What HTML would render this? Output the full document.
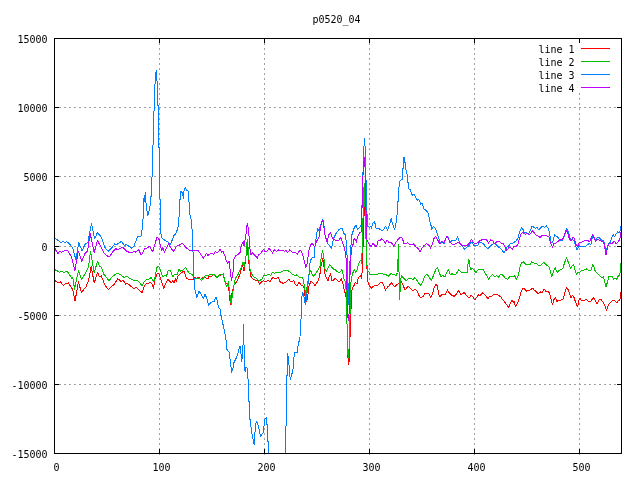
<!DOCTYPE html>
<html><head><meta charset="utf-8"><title>p0520_04</title>
<style>
html,body{margin:0;padding:0;background:#fff;}
body{width:640px;height:480px;overflow:hidden;}
svg{display:block;}
text{font-family:"DejaVu Sans Mono","Liberation Mono",monospace;font-size:10px;fill:#000;}
</style></head><body>
<svg width="640" height="480" viewBox="0 0 640 480">
<rect x="0" y="0" width="640" height="480" fill="#fff"/>

<g stroke="#a0a0a0" stroke-width="1" stroke-dasharray="2 3" shape-rendering="crispEdges" fill="none">
<line x1="54" y1="107.5" x2="621" y2="107.5"/>
<line x1="54" y1="176.5" x2="621" y2="176.5"/>
<line x1="54" y1="246.5" x2="621" y2="246.5"/>
<line x1="54" y1="315.5" x2="621" y2="315.5"/>
<line x1="54" y1="384.5" x2="621" y2="384.5"/>
<line x1="159.5" y1="455" x2="159.5" y2="38"/>
<line x1="264.5" y1="455" x2="264.5" y2="38"/>
<line x1="369.5" y1="455" x2="369.5" y2="38"/>
<line x1="474.5" y1="455" x2="474.5" y2="38"/>
<line x1="579.5" y1="455" x2="579.5" y2="93"/>
</g>
<g fill="none" stroke-width="1" stroke-linejoin="round" shape-rendering="crispEdges" clip-path="url(#c)">
<clipPath id="c"><rect x="54" y="38" width="568" height="416"/></clipPath>
<polyline stroke="#ff0000" points="54.5,280.4 59.0,283.1 60.2,281.5 63.4,285.6 65.9,283.5 68.4,282.8 71.5,288.1 72.8,289.4 75.0,301.2 78.4,281.9 81.5,292.5 85.9,286.9 88.4,281.2 91.2,266.5 94.2,283.1 97.5,272.5 99.6,276.9 101.2,275.6 105.2,285.6 108.4,289.4 114.0,284.4 117.8,278.8 120.9,281.2 123.4,280.6 125.9,284.4 127.1,283.1 130.2,285.6 134.0,288.8 135.9,286.9 139.6,290.6 142.1,292.5 144.6,285.6 146.5,283.1 148.4,283.8 150.2,281.9 152.1,284.4 153.4,288.5 155.0,279.4 157.1,273.5 159.0,273.8 160.9,279.4 163.8,288.1 165.9,283.1 167.8,279.4 169.6,281.2 171.2,283.1 173.0,280.6 174.0,283.1 175.9,278.1 176.5,281.2 177.8,276.2 181.5,272.5 184.0,271.2 186.5,278.1 189.0,279.4 192.8,280.0 194.0,276.9 196.5,278.1 199.0,277.2 200.2,279.4 204.0,276.9 207.8,279.0 209.0,276.2 212.1,276.0 214.0,274.4 215.9,276.2 217.1,278.1 219.6,275.2 223.4,274.4 224.6,280.6 227.1,284.4 228.4,283.1 229.6,297.5 230.5,305.0 232.1,292.5 233.8,285.6 235.2,283.1 237.1,281.2 239.6,275.0 242.5,265.0 244.0,271.2 245.2,262.5 246.2,255.0 247.2,246.9 248.0,255.0 249.6,268.8 250.9,276.2 252.8,278.8 255.9,280.6 257.8,280.6 259.6,284.4 261.5,281.9 263.4,280.6 265.2,281.9 267.8,280.6 270.2,281.2 272.8,277.5 275.2,278.8 278.4,277.5 280.2,281.9 283.4,283.5 285.9,281.9 289.0,279.4 290.9,281.9 294.0,280.6 295.2,284.4 297.1,285.6 299.0,281.9 300.9,285.0 302.8,285.6 304.2,288.1 305.5,301.2 306.5,301.9 307.5,297.5 309.0,286.2 310.9,281.2 313.0,283.1 315.2,285.6 317.8,281.2 319.6,276.9 320.9,266.2 321.8,262.5 322.8,258.8 323.8,265.0 324.6,272.5 326.5,278.1 328.0,280.6 329.2,276.2 330.5,273.8 332.1,281.2 334.0,279.4 335.2,278.4 336.8,280.0 338.7,281.6 340.2,281.0 341.5,278.8 342.4,282.5 343.4,285.0 343.4,288.8 344.3,289.0 344.3,292.0 345.4,292.2 345.4,296.0 346.4,296.5 346.5,324.0 347.5,324.0 347.5,350.0 348.5,365.0 349.4,358.8 349.5,342.0 350.5,332.8 350.5,315.0 351.5,302.5 351.5,290.3 352.4,290.0 352.6,287.2 353.4,286.9 354.3,285.0 354.6,283.4 355.6,282.2 356.2,283.8 357.4,283.1 358.0,278.8 359.3,276.6 360.6,275.3 361.4,278.4 361.5,273.1 362.6,272.5 362.8,255.0 362.9,246.0 363.5,246.0 363.5,214.0 364.5,202.0 364.5,210.0 365.5,222.0 366.5,235.0 366.5,265.0 367.4,272.0 367.4,281.0 368.4,282.5 369.0,285.0 369.9,286.2 371.2,288.4 372.4,287.2 374.0,286.0 375.9,285.0 377.8,285.0 379.6,283.1 382.1,282.5 384.0,286.2 385.5,290.0 387.5,286.9 389.0,286.2 391.2,282.5 392.8,284.4 394.6,286.9 397.1,284.4 399.0,283.1 401.5,281.9 403.4,286.2 405.2,290.0 408.0,286.2 410.2,288.1 412.8,290.6 415.2,289.4 417.1,291.2 419.0,295.6 420.9,298.1 423.4,296.2 425.2,293.1 426.5,293.1 429.0,293.8 430.9,297.5 432.8,293.1 434.6,286.2 436.2,284.4 437.5,286.2 438.4,292.5 439.6,296.9 442.1,294.4 445.2,294.4 447.5,290.0 449.0,292.5 451.5,295.0 454.0,296.2 455.5,295.6 457.1,292.5 458.8,290.6 460.9,294.4 462.8,293.8 464.2,292.5 466.5,295.6 469.0,298.1 470.9,295.6 472.8,296.2 474.6,300.0 476.5,297.5 478.4,295.0 480.2,295.6 482.8,292.5 485.2,295.0 487.8,298.8 489.6,296.2 491.5,296.9 493.4,294.4 495.2,295.0 497.1,294.4 499.0,295.6 500.9,296.9 502.8,300.0 504.6,301.9 506.5,304.4 508.8,307.5 510.0,303.8 511.8,300.0 513.4,302.5 514.2,301.2 515.5,306.9 517.1,303.8 519.0,299.4 520.2,295.0 521.5,290.6 523.4,288.1 525.2,289.4 526.5,291.2 529.0,290.6 530.9,289.4 532.8,288.1 534.0,290.0 535.9,291.2 538.4,293.8 540.2,291.9 542.1,292.5 544.0,288.8 545.9,291.2 547.8,291.2 549.6,293.1 550.9,298.8 552.5,305.0 554.0,299.4 555.2,297.5 556.8,301.2 559.0,300.6 560.9,300.0 563.0,299.4 564.6,293.8 566.5,287.5 568.4,290.0 569.6,293.8 570.9,297.5 572.5,295.6 574.0,297.5 575.5,301.9 577.5,306.9 578.8,301.2 579.6,298.1 581.5,300.6 584.0,300.6 586.5,299.4 588.4,301.2 590.9,301.2 593.4,297.5 595.2,300.6 597.1,303.8 599.0,300.0 600.9,299.4 602.8,301.9 604.6,305.0 606.5,310.0 608.4,305.0 610.6,302.5 613.1,300.0 615.0,301.2 616.9,303.1 618.5,300.6 619.8,300.0 620.9,292.5"/>
<polyline stroke="#00c000" points="54.5,269.5 57.8,271.2 59.6,272.5 61.5,271.2 63.4,272.5 67.1,271.2 69.0,273.8 71.5,278.1 72.8,277.5 74.6,289.4 78.4,270.6 81.5,279.4 85.2,273.8 88.4,267.5 90.5,251.2 92.1,260.0 94.2,273.1 97.5,261.2 99.6,266.2 101.5,267.5 104.0,274.4 109.0,280.6 112.8,276.2 117.1,273.1 120.2,274.4 124.0,277.5 127.1,276.2 130.2,278.8 134.0,280.6 137.1,280.0 139.6,282.5 142.1,286.2 144.0,281.9 146.5,279.4 149.0,279.0 151.2,277.5 153.8,281.9 155.2,276.9 156.8,267.5 158.4,266.2 160.2,269.4 162.8,276.9 164.6,275.6 166.5,276.2 168.4,270.0 170.5,270.6 172.8,276.9 174.6,274.4 177.1,275.0 179.0,269.4 180.9,271.2 183.4,270.0 185.5,267.5 189.0,273.1 192.1,274.4 194.0,278.1 196.5,278.8 199.0,278.1 201.5,280.6 205.9,275.0 207.8,275.6 209.6,274.4 211.5,275.0 214.0,274.8 215.9,275.6 217.1,277.5 219.6,274.8 223.4,273.8 224.6,280.0 226.5,286.9 228.4,281.9 229.6,291.2 231.2,304.4 232.8,292.5 234.0,285.0 235.2,278.8 237.8,275.0 240.9,268.1 243.0,261.9 244.2,266.2 245.9,257.5 246.8,243.8 247.5,239.4 248.4,252.5 249.6,267.5 251.5,273.8 253.4,276.9 256.5,278.1 259.0,281.2 262.1,278.8 264.0,275.6 267.1,275.0 269.0,274.4 270.9,275.6 272.1,272.5 274.6,273.1 276.5,272.5 279.0,273.1 282.1,271.2 285.9,270.0 289.0,271.2 291.5,273.8 294.0,275.2 296.5,275.0 299.6,277.2 302.8,278.1 304.0,283.8 305.9,296.2 307.1,286.2 308.4,278.8 309.6,270.0 310.9,271.2 312.1,274.4 313.8,276.2 315.9,273.1 317.8,270.6 320.2,266.2 321.2,257.5 322.5,250.6 323.8,256.2 324.6,268.8 326.5,271.2 327.8,268.8 329.6,264.4 332.1,267.5 334.6,270.0 335.2,269.4 336.5,271.0 338.4,272.5 340.2,271.9 341.5,270.0 342.4,271.2 343.4,276.2 344.3,280.6 345.6,281.2 346.3,295.0 346.5,324.0 347.5,324.0 347.5,350.0 348.3,358.0 349.3,345.0 350.0,315.0 350.7,285.0 351.5,278.0 352.4,274.4 353.4,271.2 354.6,270.0 355.6,272.2 356.8,270.6 357.8,266.9 358.7,264.4 359.6,261.2 360.9,260.0 361.5,263.1 361.6,255.0 362.5,250.0 362.5,222.0 363.5,214.0 363.5,190.0 364.5,184.0 364.5,202.0 365.5,211.0 365.5,239.0 366.5,239.0 366.5,265.0 367.4,265.6 367.8,271.2 369.0,272.2 369.6,274.4 374.0,274.5 376.5,275.0 379.0,273.5 381.5,273.1 384.0,274.4 386.5,275.0 388.8,276.2 390.9,273.1 392.8,275.0 394.2,274.4 395.9,275.6 397.5,272.5 397.8,259.4 398.6,258.8 398.8,244.4 399.0,271.9 399.6,272.5 399.8,299.4 400.0,292.5 400.9,278.8 401.8,275.6 403.4,278.1 405.9,280.6 408.4,278.8 411.5,278.8 413.4,279.4 414.6,277.5 417.1,280.6 420.5,285.6 422.8,281.2 424.6,276.2 427.1,274.4 429.0,276.9 431.5,280.6 433.8,274.4 435.9,269.4 437.5,267.5 439.0,271.9 440.9,276.9 442.8,275.6 445.0,276.9 446.5,272.5 448.4,269.4 450.2,274.4 452.1,273.8 454.0,275.0 455.9,274.4 458.4,270.0 460.9,271.9 462.8,273.1 464.6,272.5 467.1,273.1 467.8,266.2 468.4,259.4 469.2,260.0 469.6,266.2 470.9,270.0 472.5,268.1 474.0,270.0 475.9,272.5 477.8,270.0 479.6,269.4 481.5,270.0 483.4,269.4 485.2,273.1 487.1,276.2 488.8,279.4 490.5,276.2 492.5,274.4 494.6,276.9 496.5,275.6 498.4,277.5 500.2,275.0 501.8,274.4 503.4,275.6 505.2,278.1 507.5,279.4 509.6,276.9 511.5,276.2 513.0,276.9 514.6,275.6 516.5,279.4 518.4,275.0 519.6,268.8 520.5,265.0 522.1,262.5 523.8,261.9 525.9,264.4 528.4,265.0 530.2,264.4 531.8,261.9 533.4,262.5 534.0,263.1 536.5,263.8 539.6,266.0 541.5,264.4 544.0,262.5 546.5,265.0 549.0,266.9 550.2,270.6 551.8,276.9 553.4,271.9 555.2,267.5 557.1,272.5 559.0,270.6 560.9,269.4 562.8,268.8 564.6,262.5 566.5,257.8 568.4,262.5 570.5,268.8 572.1,266.2 573.4,264.4 574.6,268.1 576.5,275.0 578.0,271.9 579.6,272.5 581.5,270.6 584.0,270.0 587.1,268.8 589.0,271.2 590.9,270.0 592.8,264.8 594.0,266.9 595.2,271.2 597.1,273.1 599.6,275.6 601.5,277.5 603.4,276.9 604.6,281.2 605.9,287.2 607.1,283.1 608.8,276.9 610.6,276.2 612.5,276.9 613.8,279.4 615.6,278.1 616.9,279.4 618.1,276.2 619.8,275.0 620.9,263.1"/>
<polyline stroke="#0080ff" points="54.5,237.9 59.0,241.0 60.9,242.5 63.0,241.2 64.6,242.8 66.5,241.9 68.4,242.8 72.8,247.8 75.9,260.0 78.8,242.5 82.1,251.2 84.6,245.0 88.0,241.9 91.5,223.5 94.6,238.8 97.5,232.5 101.5,237.5 105.2,248.1 108.4,251.2 111.5,248.1 114.6,244.0 116.5,244.8 121.5,241.2 124.6,245.6 126.5,244.4 131.5,248.1 134.0,246.2 137.5,236.5 141.5,236.0 142.5,224.4 143.4,215.0 143.4,207.5 144.2,195.0 144.8,201.2 145.6,192.2 145.9,202.5 146.5,203.8 147.4,215.6 148.4,213.8 150.0,206.2 150.6,196.9 151.5,196.2 151.5,177.5 152.5,176.2 152.5,155.0 152.5,145.2 153.4,144.8 153.4,111.2 154.4,110.6 154.4,84.4 155.2,83.8 155.2,72.5 156.0,72.1 156.6,70.9 156.4,80.6 157.5,81.2 157.8,105.6 158.6,106.2 158.6,147.5 159.6,148.1 159.6,198.8 160.6,199.4 160.6,227.5 160.9,233.8 162.1,238.1 164.6,240.0 167.8,241.9 170.2,245.0 174.0,235.6 175.9,233.8 178.0,227.5 179.2,215.0 179.2,200.6 180.2,199.4 180.5,191.2 182.1,192.5 183.4,198.1 184.0,191.2 185.2,187.2 186.5,190.0 188.4,191.2 188.6,201.9 189.6,202.5 189.9,215.0 191.8,221.2 192.5,246.2 193.8,260.0 194.0,277.5 194.9,290.0 196.9,297.5 199.0,291.2 200.9,293.8 203.4,298.1 205.0,294.4 206.5,297.5 208.8,305.2 210.9,302.5 214.0,301.5 215.9,296.9 217.1,300.0 218.4,307.5 220.2,309.4 220.9,315.0 223.4,326.2 225.2,335.0 226.8,345.0 226.5,348.8 227.8,350.6 229.2,351.9 230.0,358.8 230.9,365.6 231.5,372.2 232.8,368.8 234.0,362.5 236.5,357.5 238.4,351.9 239.6,346.2 240.5,346.9 241.5,361.2 242.5,356.2 243.0,345.0 243.6,324.4 243.8,345.0 244.6,345.6 244.2,367.5 245.2,371.2 245.9,367.5 247.1,368.1 247.5,378.8 248.4,379.4 248.6,400.0 248.8,401.2 249.6,401.9 249.9,419.4 250.6,420.6 251.2,430.0 252.5,436.9 254.2,444.4 255.5,424.4 256.5,421.2 258.4,426.2 260.5,436.2 263.4,432.5 264.6,419.4 266.2,417.5 266.5,424.4 267.5,425.0 267.8,441.2 268.6,441.9 268.6,460.0 285.5,460.0 285.5,426.2 286.5,425.6 286.8,395.0 286.2,376.2 287.1,375.6 287.4,353.1 288.4,357.5 288.8,363.8 289.6,366.9 289.4,373.8 290.5,379.4 292.1,373.1 293.4,367.5 293.6,357.5 294.0,356.9 294.2,355.0 294.6,352.5 297.1,353.1 297.5,348.8 298.8,342.5 300.0,336.9 300.5,320.0 301.5,318.1 301.5,299.0 302.8,292.5 303.8,295.6 304.6,301.2 305.5,305.0 306.5,297.5 307.8,286.2 309.0,275.0 310.2,261.0 312.1,257.5 314.0,258.1 315.0,246.2 316.5,236.2 317.5,228.1 319.0,230.6 320.2,226.9 321.5,221.9 322.8,219.4 323.8,223.1 324.6,233.8 325.9,238.8 327.8,243.8 329.6,245.6 331.5,248.8 333.4,238.8 335.9,233.8 339.0,229.4 341.8,228.1 343.4,231.9 344.5,234.7 345.6,234.7 345.9,240.0 346.6,240.6 346.8,250.0 347.3,262.0 348.3,305.0 349.3,275.0 350.6,250.0 350.9,246.9 351.5,236.2 352.4,233.1 353.4,230.6 354.3,227.5 355.2,226.2 356.5,225.3 357.4,230.0 358.7,228.4 360.9,226.2 361.5,220.0 362.5,190.0 363.5,154.0 364.5,139.0 365.5,152.0 365.5,175.0 366.5,185.0 366.5,211.0 367.5,216.0 367.4,226.9 368.4,226.2 369.6,227.8 370.9,226.2 371.5,228.1 372.4,224.4 373.4,222.5 374.5,221.2 375.2,224.4 375.6,227.5 376.5,228.4 378.7,228.4 379.9,229.4 381.5,230.3 383.0,230.0 384.0,229.4 385.5,226.2 387.5,230.0 389.2,225.6 391.2,218.8 392.8,224.4 394.6,230.0 396.2,222.5 397.1,214.4 397.5,201.9 398.4,201.2 398.5,187.5 399.4,186.9 399.6,181.2 400.9,180.0 402.5,179.4 402.8,168.8 403.6,167.5 403.8,157.5 404.6,157.2 404.8,162.5 405.5,162.5 405.9,170.0 406.8,170.6 407.1,175.0 407.8,175.6 408.0,182.5 408.8,183.1 409.0,188.8 410.2,189.8 411.5,193.8 412.5,195.2 413.8,194.0 415.2,196.2 417.1,200.6 418.0,199.4 419.6,200.6 420.5,204.4 421.5,203.1 422.5,203.8 423.4,208.1 424.6,209.4 426.5,210.6 428.4,213.8 429.6,220.0 430.9,225.0 431.8,229.4 433.4,226.2 435.2,228.1 437.1,233.1 439.0,238.8 440.2,243.1 442.1,242.5 444.0,243.8 445.2,240.0 446.5,236.9 447.8,236.2 449.0,240.0 450.2,243.1 451.8,240.0 454.0,240.6 455.9,240.0 457.5,236.9 459.0,240.6 460.2,243.8 462.8,246.9 464.6,249.4 466.5,247.5 469.0,245.6 470.9,241.9 472.5,243.1 474.0,246.2 475.9,245.0 477.1,246.2 479.0,243.1 480.9,242.5 483.4,243.8 485.2,246.2 487.5,248.8 489.6,246.9 492.1,244.4 494.0,243.1 496.5,245.0 498.4,246.9 500.9,248.8 502.8,251.2 504.2,252.5 505.9,248.8 507.1,246.9 509.0,245.6 510.2,243.5 512.8,243.1 514.6,241.9 516.5,240.6 518.4,236.9 519.6,231.9 521.5,227.5 523.0,229.4 524.6,233.1 526.5,232.5 528.4,233.8 530.2,230.6 531.8,226.9 533.4,226.2 534.0,227.5 535.5,228.1 537.1,227.5 539.0,230.0 540.9,227.5 542.8,226.2 544.6,227.5 546.5,226.0 548.4,228.8 549.6,233.8 550.9,241.9 552.5,242.5 553.8,238.1 554.6,234.4 556.5,236.2 558.4,238.1 560.2,240.0 562.1,240.6 564.0,236.9 565.5,231.9 566.8,228.5 568.4,231.9 569.6,236.9 570.9,240.0 572.8,239.4 574.0,241.2 575.2,245.0 577.1,250.0 578.4,247.5 579.6,245.6 582.1,246.9 584.6,246.9 587.1,245.0 589.6,243.1 590.9,245.0 591.8,240.0 592.8,235.0 594.2,238.8 595.9,240.0 597.8,237.2 599.6,238.1 601.5,240.0 603.4,240.6 604.6,244.4 605.9,251.2 607.1,247.5 608.4,243.8 610.2,242.5 611.5,238.8 613.1,234.4 614.4,236.9 616.2,233.8 617.8,231.9 619.8,232.5 620.9,226.2"/>
<polyline stroke="#c000ff" points="54.5,247.5 57.8,253.8 59.6,251.5 61.5,252.2 65.2,250.4 67.8,250.6 71.5,256.9 74.9,270.6 78.4,251.2 81.8,261.2 85.2,253.1 87.5,251.2 90.2,233.8 94.2,252.5 97.5,240.6 101.5,248.1 104.0,253.1 109.0,257.2 112.8,251.9 115.9,248.8 117.8,249.4 122.8,247.2 126.5,251.2 129.0,252.2 132.1,252.8 134.0,251.2 135.9,252.2 138.4,249.4 140.9,254.4 142.1,254.0 144.6,248.5 146.5,248.5 149.6,246.2 152.8,251.9 154.6,245.0 157.1,237.2 159.0,239.4 161.5,250.6 162.8,247.8 164.6,252.2 168.4,243.8 170.9,248.1 173.4,251.5 177.1,245.6 179.6,245.0 182.5,243.1 185.2,246.9 189.0,250.0 192.8,250.6 198.4,250.9 203.4,258.1 206.5,253.5 207.8,255.6 210.9,253.1 214.0,254.4 215.2,251.9 217.8,252.5 220.2,249.4 221.8,252.5 223.0,251.2 224.6,255.0 226.5,261.2 227.8,263.1 229.0,261.2 230.2,270.0 231.5,280.6 232.8,273.8 233.8,265.0 234.0,258.8 235.9,255.6 239.0,253.8 240.5,251.9 241.2,245.6 243.4,241.9 244.0,246.2 245.9,235.0 246.8,226.2 247.5,223.1 248.8,232.5 249.6,246.2 250.9,255.0 252.1,252.5 255.2,255.6 257.5,258.1 258.4,255.0 260.9,253.1 263.4,249.4 264.6,251.2 267.1,251.2 269.0,248.5 270.9,250.6 272.5,253.1 274.6,249.4 276.5,251.2 278.4,250.0 280.9,250.6 282.8,250.0 284.0,251.2 285.9,250.6 287.8,252.5 289.6,250.0 292.1,251.9 294.0,252.5 295.9,252.5 297.1,254.4 299.6,250.6 301.5,251.2 303.4,257.5 305.9,267.5 307.1,263.8 309.0,250.0 311.5,243.1 313.4,245.0 314.6,246.9 316.5,241.2 319.0,237.5 320.9,225.6 322.1,220.6 323.4,221.9 324.6,233.8 327.1,241.9 329.0,234.4 330.5,232.5 332.1,236.9 333.4,239.4 335.9,240.6 338.4,240.6 340.9,237.5 342.8,243.8 344.6,248.1 345.5,255.0 346.2,259.0 347.0,290.0 347.5,315.0 348.4,320.6 349.4,310.0 349.7,290.0 350.3,262.0 351.5,250.0 352.1,246.2 353.4,243.8 353.7,240.0 354.6,238.4 355.6,240.0 356.5,242.2 357.2,238.1 358.5,235.0 359.6,232.5 360.9,231.9 361.5,231.0 362.5,187.0 363.5,165.0 364.5,158.0 365.5,175.0 365.5,211.0 366.5,211.0 366.6,235.0 366.8,238.8 367.4,241.2 368.7,243.1 369.6,245.0 370.9,246.9 371.8,245.6 372.4,243.4 374.3,244.4 375.9,246.9 377.1,245.0 377.4,241.6 378.7,240.3 380.2,240.6 381.8,238.4 383.4,240.6 384.0,241.2 385.5,243.1 387.1,240.0 389.2,243.1 390.9,241.9 393.8,246.2 395.9,242.5 398.4,238.8 400.9,236.9 402.5,238.8 404.0,243.8 405.9,243.8 407.5,242.5 409.6,244.4 411.5,245.0 413.8,243.8 415.9,246.9 417.8,248.1 420.0,251.9 422.1,248.1 424.0,245.6 426.5,243.8 428.4,244.4 430.5,248.1 432.1,245.0 433.8,238.8 435.5,236.2 437.1,238.8 439.0,242.5 440.2,243.8 442.1,241.2 444.0,242.5 445.5,238.8 447.1,236.2 448.8,240.0 450.9,243.1 452.8,245.0 454.0,244.4 455.9,243.8 457.8,242.5 459.6,243.1 462.1,245.6 464.6,245.6 467.1,245.6 469.6,243.1 471.5,239.4 473.0,241.9 475.2,243.8 477.8,242.5 480.2,240.6 482.8,239.4 486.5,239.4 488.4,243.1 490.5,240.0 492.8,240.6 494.6,243.8 497.1,241.2 499.6,241.9 501.5,243.1 503.4,243.8 505.2,247.5 506.8,250.6 509.0,247.5 510.9,247.5 512.1,249.4 514.0,246.2 515.9,246.9 517.8,244.4 519.0,240.0 520.9,234.4 522.8,232.5 525.2,234.4 527.1,233.1 529.0,235.0 530.9,233.1 532.8,230.6 534.0,232.5 535.9,235.0 537.8,235.6 540.2,237.5 542.1,235.0 544.6,235.0 547.1,236.2 549.0,236.9 550.2,241.9 552.5,247.5 554.0,243.1 555.9,243.1 558.4,241.2 560.2,239.4 562.1,240.0 564.0,236.2 565.9,230.6 567.5,231.9 569.0,237.5 570.9,241.2 572.8,237.5 574.2,238.1 575.9,244.4 577.5,246.9 579.0,243.1 580.9,242.5 583.4,241.2 585.2,240.0 587.8,240.6 589.6,241.9 591.2,238.1 592.8,234.4 594.0,237.5 595.5,241.2 597.8,239.4 600.2,240.6 602.8,241.9 604.2,243.8 605.2,250.0 605.9,255.0 607.1,250.0 608.4,244.4 610.2,243.1 612.5,243.1 614.4,241.2 616.2,243.8 618.1,241.9 619.8,239.4 620.9,232.5"/>
</g>
<g stroke="#000" stroke-width="1" shape-rendering="crispEdges" fill="none">
<rect x="54.5" y="38.5" width="567" height="415"/>
<line x1="54" y1="107.5" x2="59" y2="107.5"/>
<line x1="617" y1="107.5" x2="622" y2="107.5"/>
<line x1="54" y1="176.5" x2="59" y2="176.5"/>
<line x1="617" y1="176.5" x2="622" y2="176.5"/>
<line x1="54" y1="246.5" x2="59" y2="246.5"/>
<line x1="617" y1="246.5" x2="622" y2="246.5"/>
<line x1="54" y1="315.5" x2="59" y2="315.5"/>
<line x1="617" y1="315.5" x2="622" y2="315.5"/>
<line x1="54" y1="384.5" x2="59" y2="384.5"/>
<line x1="617" y1="384.5" x2="622" y2="384.5"/>
<line x1="159.5" y1="454" x2="159.5" y2="449"/>
<line x1="159.5" y1="38" x2="159.5" y2="43"/>
<line x1="264.5" y1="454" x2="264.5" y2="449"/>
<line x1="264.5" y1="38" x2="264.5" y2="43"/>
<line x1="369.5" y1="454" x2="369.5" y2="449"/>
<line x1="369.5" y1="38" x2="369.5" y2="43"/>
<line x1="474.5" y1="454" x2="474.5" y2="449"/>
<line x1="474.5" y1="38" x2="474.5" y2="43"/>
<line x1="579.5" y1="454" x2="579.5" y2="449"/>
<line x1="579.5" y1="38" x2="579.5" y2="43"/>
</g>
<g stroke-width="1" shape-rendering="crispEdges" fill="none">
<line x1="581" y1="48.5" x2="610" y2="48.5" stroke="#ff0000"/>
<line x1="581" y1="61.5" x2="610" y2="61.5" stroke="#00c000"/>
<line x1="581" y1="74.5" x2="610" y2="74.5" stroke="#0080ff"/>
<line x1="581" y1="87.5" x2="610" y2="87.5" stroke="#c000ff"/>
</g>
<text x="574.5" y="53" text-anchor="end">line 1</text>
<text x="574.5" y="66" text-anchor="end">line 2</text>
<text x="574.5" y="79" text-anchor="end">line 3</text>
<text x="574.5" y="92" text-anchor="end">line 4</text>
<text x="47.5" y="43" text-anchor="end">15000</text>
<text x="47.5" y="112" text-anchor="end">10000</text>
<text x="47.5" y="181" text-anchor="end">5000</text>
<text x="47.5" y="251" text-anchor="end">0</text>
<text x="47.5" y="320" text-anchor="end">-5000</text>
<text x="47.5" y="389" text-anchor="end">-10000</text>
<text x="47.5" y="458" text-anchor="end">-15000</text>
<text x="56.5" y="471" text-anchor="middle">0</text>
<text x="161.5" y="471" text-anchor="middle">100</text>
<text x="266.5" y="471" text-anchor="middle">200</text>
<text x="371.5" y="471" text-anchor="middle">300</text>
<text x="476.5" y="471" text-anchor="middle">400</text>
<text x="581.5" y="471" text-anchor="middle">500</text>
<text x="336.5" y="23" text-anchor="middle">p0520_04</text>
</svg></body></html>
